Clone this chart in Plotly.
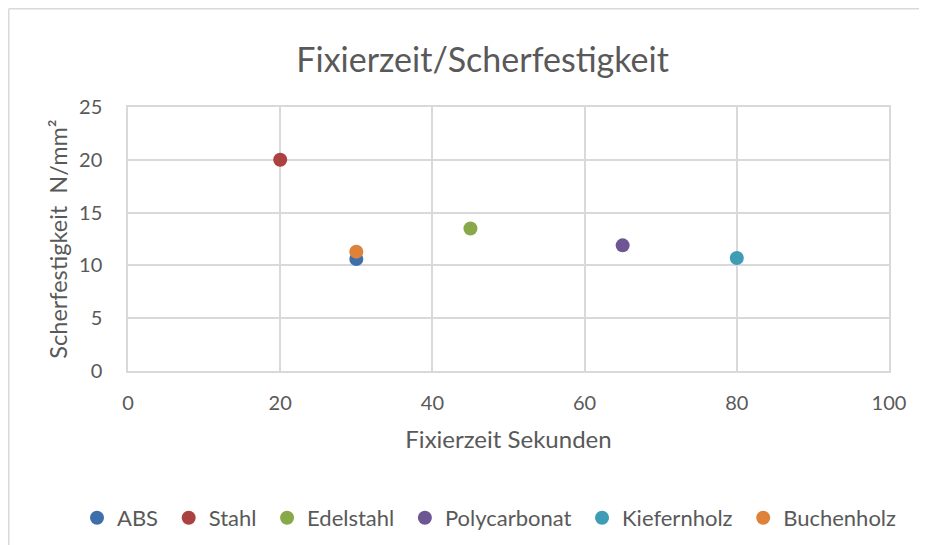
import plotly.graph_objects as go

series_names = ["ABS", "Stahl", "Edelstahl", "Polycarbonat", "Kiefernholz", "Buchenholz"]
fixierzeit = [30, 20, 45, 65, 80, 30]
scherfestigkeit = [10.6, 20.0, 13.5, 11.9, 10.7, 11.3]
colors = ["#3F6FAA", "#AC4141", "#88A84A", "#6D5693", "#3E9CB5", "#DE8139"]

FONT = "Lato"
TXT = "#595959"
GRID = "#D9D9D9"

PAD = "\u00a0"

fig = go.Figure()
for i, (name, x, y, c) in enumerate(zip(series_names, fixierzeit, scherfestigkeit, colors)):
    label = name + (PAD if i < len(series_names) - 1 else "")
    fig.add_trace(go.Scatter(x=[x], y=[y], mode="markers", name=label,
                             marker=dict(size=14, color=c, line=dict(width=0))))

L, R, T, B = 120, 46, 99, 182
PW, PH = 927 - L - R, 545 - T - B

fig.update_layout(
    width=927, height=545,
    paper_bgcolor="white", plot_bgcolor="white",
    margin=dict(l=L, r=R, t=T, b=B, autoexpand=False),
    font=dict(family=FONT, color=TXT),
    title=dict(text="Fixierzeit/Scherfestigkeit", x=0.512, xanchor="center",
               y=0.905, yanchor="middle", font=dict(size=34, color=TXT, family=FONT)),
    xaxis=dict(range=[0, 100], dtick=20, tick0=0, showgrid=True, gridcolor=GRID, gridwidth=1.5,
               showline=True, linecolor=GRID, linewidth=1.5, mirror=True, zeroline=False,
               ticks="", tickfont=dict(size=20, color=TXT), ticklabelstandoff=13,
               title=dict(text="Fixierzeit Sekunden", font=dict(size=24, color=TXT), standoff=18)),
    yaxis=dict(range=[0, 25], dtick=5, tick0=0, showgrid=True, gridcolor=GRID, gridwidth=1.5,
               showline=True, linecolor=GRID, linewidth=1.5, mirror=True, zeroline=False,
               ticks="", tickfont=dict(size=20, color=TXT), ticklabelstandoff=20,
               title=dict(text="Scherfestigkeit\u00a0\u00a0N/mm²", font=dict(size=23.5, color=TXT), standoff=5)),
    legend=dict(orientation="h", x=(69 - L) / PW, xanchor="left",
                y=(T + PH - 510) / PH, yanchor="middle",
                font=dict(size=22, color=TXT), itemwidth=30, tracegroupgap=0,
                bgcolor="rgba(0,0,0,0)"),
    showlegend=True,
)

# outer chart border (top and left edges visible)
fig.add_shape(type="line", xref="paper", yref="paper",
              x0=(0.75 - L) / PW, x1=(930 - L) / PW, y0=(T + PH - 0.75) / PH, y1=(T + PH - 0.75) / PH,
              line=dict(color=GRID, width=1.5))
fig.add_shape(type="line", xref="paper", yref="paper",
              x0=(0.75 - L) / PW, x1=(0.75 - L) / PW, y0=(T + PH - 0.75) / PH, y1=(T + PH - 560) / PH,
              line=dict(color=GRID, width=1.5))

fig.write_html("out.html")
